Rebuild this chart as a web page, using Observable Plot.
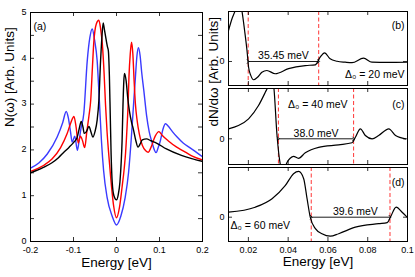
<!DOCTYPE html>
<html><head><meta charset="utf-8">
<script src="https://cdn.jsdelivr.net/npm/d3@7"></script>
<script src="https://cdn.jsdelivr.net/npm/@observablehq/plot@0.6"></script>
<style>
html,body{margin:0;padding:0;background:#fff;}
#chart{position:relative;width:415px;height:277px;overflow:hidden;background:#fff;}
</style></head><body><div id="chart"></div>
<script>
// ---------- Panel (a): N(ω) vs energy [eV] ----------
const blackCurve = [[-0.2,1.5],[-0.17,1.62],[-0.15,1.72],[-0.135,1.83],[-0.1225,1.95],[-0.11,2.06],[-0.1,2.16],[-0.092,2.26],[-0.087,2.45],[-0.082,2.62],[-0.078,2.5],[-0.075,2.36],[-0.07,2.4],[-0.064,2.51],[-0.059,2.38],[-0.055,2.28],[-0.05,2.4],[-0.045,2.65],[-0.041,3.08],[-0.037,3.95],[-0.034,4.45],[-0.031,4.77],[-0.028,4.62],[-0.024,4.4],[-0.021,4.25],[-0.019,4.17],[-0.0165,3.6],[-0.0145,2.75],[-0.0125,1.9],[-0.01,1.3],[-0.006,1.0],[0,0.91],[0.004,1.02],[0.008,1.3],[0.011,1.75],[0.013,2.2],[0.015,2.95],[0.017,3.5],[0.0186,3.67],[0.0225,3.5],[0.026,3.15],[0.03,2.85],[0.035,2.6],[0.039,2.46],[0.045,2.2],[0.05,2.06],[0.055,2.13],[0.06,2.22],[0.07,2.24],[0.08,2.2],[0.093,2.15],[0.116,2.02],[0.151,1.88],[0.175,1.81],[0.2,1.75]];
const redCurve = [[-0.2,1.53],[-0.17,1.66],[-0.15,1.8],[-0.13,2.05],[-0.115,2.35],[-0.106,2.6],[-0.099,2.73],[-0.094,2.5],[-0.089,2.15],[-0.084,2.3],[-0.079,2.2],[-0.074,2.05],[-0.069,2.4],[-0.064,2.75],[-0.06,3.08],[-0.056,3.8],[-0.053,4.32],[-0.047,4.75],[-0.041,4.83],[-0.037,4.65],[-0.033,4.32],[-0.029,3.7],[-0.0256,3.0],[-0.022,2.4],[-0.018,1.9],[-0.014,1.45],[-0.007,0.8],[0,0.52],[0.007,0.75],[0.013,1.19],[0.018,1.6],[0.021,1.92],[0.024,2.4],[0.027,3.0],[0.029,3.6],[0.032,4.1],[0.035,4.35],[0.038,4.1],[0.041,3.5],[0.044,3.0],[0.048,2.64],[0.053,2.35],[0.06,2.1],[0.068,1.98],[0.074,1.95],[0.08,2.05],[0.09,2.3],[0.0985,2.4],[0.106,2.32],[0.12,2.2],[0.14,2.06],[0.155,1.98],[0.175,1.87],[0.2,1.78]];
const blueCurve = [[-0.2,1.6],[-0.18,1.72],[-0.161,1.91],[-0.138,2.28],[-0.125,2.6],[-0.117,2.84],[-0.112,2.7],[-0.107,2.4],[-0.103,2.17],[-0.097,2.3],[-0.091,1.99],[-0.087,2.2],[-0.083,2.45],[-0.076,2.8],[-0.068,3.95],[-0.062,4.45],[-0.0565,4.64],[-0.051,4.4],[-0.045,3.95],[-0.04,3.1],[-0.035,2.2],[-0.03,1.55],[-0.022,0.97],[-0.01,0.55],[0,0.36],[0.01,0.55],[0.02,0.95],[0.028,1.5],[0.034,2.2],[0.039,2.9],[0.044,3.59],[0.0475,4.05],[0.051,4.23],[0.055,4.05],[0.0585,3.7],[0.0635,3.3],[0.07,2.75],[0.076,2.4],[0.083,2.15],[0.088,2.0],[0.092,1.94],[0.097,2.05],[0.102,2.2],[0.108,2.45],[0.114,2.57],[0.12,2.52],[0.13,2.4],[0.141,2.28],[0.155,2.15],[0.172,2.04],[0.2,1.85]];
const aXTicks = [-0.2, -0.1, 0, 0.1, 0.2];
const aYTicks = [0, 1, 2, 3, 4, 5];
const aYTickMarks = [0, 0.5, 1, 1.5, 2, 2.5, 3, 3.5, 4, 4.5, 5];

// ---------- Panels (b)-(d): dN/dω vs energy [eV] ----------
const curveB = [[0.01,1.29],[0.0118,1.79],[0.0134,2.13],[0.0151,2.6],[0.0167,2.13],[0.0181,1.29],[0.0193,0.46],[0.0201,-0.24],[0.0212,-0.58],[0.0226,-0.76],[0.0244,-0.67],[0.0268,-0.45],[0.0293,-0.375],[0.0335,-0.51],[0.0402,-0.3],[0.0486,-0.17],[0.0536,-0.14],[0.0561,0.18],[0.0583,0.36],[0.0611,0.11],[0.0646,0.01],[0.0687,-0.03],[0.0721,-0.05],[0.0779,0.14],[0.0821,-0.03],[0.09,-0.04],[0.1,-0.03]];
const curveC = [[0.01,0.4],[0.015,0.53],[0.0201,0.8],[0.0251,1.33],[0.0285,1.86],[0.0301,2.13],[0.0314,2.5],[0.0327,2.13],[0.0344,0.13],[0.036,-1.0],[0.0375,-1.3],[0.0394,-0.95],[0.041,-0.78],[0.0427,-0.7],[0.0452,-0.78],[0.0486,-0.56],[0.0553,-0.34],[0.0654,-0.24],[0.0721,-0.16],[0.0738,0.06],[0.0763,0.4],[0.0788,0.13],[0.0822,0.0],[0.0855,0.13],[0.0906,0.4],[0.094,0.13],[0.099,0.0]];
const curveD = [[0.01,0.2],[0.0234,0.4],[0.0319,0.74],[0.0386,1.27],[0.0427,1.74],[0.0453,1.83],[0.0478,1.54],[0.0495,0.74],[0.0511,0.0],[0.0537,-0.46],[0.057,-0.66],[0.0612,-0.76],[0.0654,-0.66],[0.0738,-0.4],[0.0855,-0.26],[0.0898,-0.22],[0.0914,0.0],[0.0943,0.4],[0.0973,0.2],[0.0998,0.0]];
const gapB = [0.0199, 0.05535];
const gapC = [0.0351, 0.0729];
const gapD = [0.0516, 0.0912];
const gapLabels = ["35.45 meV", "38.0 meV", "39.6 meV"];
const deltaLabels = ["Δ\u2080 = 20 meV", "Δ\u2080 = 40 meV", "Δ\u2080 = 60 meV"];
const panelLabels = ["(a)", "(b)", "(c)", "(d)"];
const rXTicks = [0.02, 0.04, 0.06, 0.08, 0.1];
const rYTicks = [0];

// ---------- drawing ----------
const chart = document.getElementById("chart");
const FONT = '"Liberation Sans", Arial, Helvetica, sans-serif';
const style = {background: "transparent", overflow: "visible", fontFamily: FONT, fontSize: "9px", color: "#000", position: "absolute"};
const TICK = 4;
const px = d => d[0], py = d => d[1], id = d => d;
const fmtA = d => (d < 0 ? "-" : "") + String(Math.abs(d));

function place(svg, left, top) {
  svg.style.left = left + "px";
  svg.style.top = top + "px";
  svg.style.maxWidth = "none";
  chart.appendChild(svg);
}

// Panel (a)
{
  const W = 210, H = 277, ML = 30, MR = 8, MT = 12, MB = 36;
  const IW = W - ML - MR, IH = H - MT - MB;
  const svg = Plot.plot({
    width: W, height: H, marginLeft: ML, marginRight: MR, marginTop: MT, marginBottom: MB,
    style,
    x: {domain: [-0.2, 0.2]},
    y: {domain: [0, 5]},
    marks: [
      Plot.line(blueCurve, {x: px, y: py, stroke: "#3a3aff", strokeWidth: 1.4, curve: "monotone-x", clip: true}),
      Plot.line(redCurve, {x: px, y: py, stroke: "#ff0000", strokeWidth: 1.4, curve: "monotone-x", clip: true}),
      Plot.line(blackCurve, {x: px, y: py, stroke: "#000", strokeWidth: 1.4, curve: "monotone-x", clip: true}),
      Plot.tickX(aXTicks, {x: id, insetTop: IH - TICK, strokeWidth: 0.8}),
      Plot.tickX(aXTicks, {x: id, insetBottom: IH - TICK, strokeWidth: 0.8}),
      Plot.tickY(aYTickMarks, {y: id, insetRight: IW - TICK, strokeWidth: 0.8}),
      Plot.tickY(aYTickMarks, {y: id, insetLeft: IW - TICK, strokeWidth: 0.8}),
      Plot.frame({stroke: "#000", strokeWidth: 1}),
      Plot.axisX(aXTicks, {tickSize: 0, tickPadding: 5, tickFormat: fmtA, label: null}),
      Plot.axisY(aYTicks, {tickSize: 0, tickPadding: 4, dy: -0.5, label: null}),
      Plot.text([panelLabels[0]], {text: id, frameAnchor: "top-left", dx: 3, dy: 10.5, textAnchor: "start", fontSize: 10.5}),
      Plot.text(["Energy [eV]"], {text: id, frameAnchor: "bottom", dy: 25, fontSize: 13.5}),
      Plot.text(["N(ω) [Arb. Units]"], {text: id, frameAnchor: "left", dx: -21, rotate: -90, fontSize: 13.5})
    ]
  });
  place(svg, 0, 0);
}

function rightPanel({curve, gap, gapLabel, gapLabelX, deltaMark, panelLabel, panelDy, yDomain, top, height, marginBottom, bottomAxis, extra = []}) {
  const W = 215, ML = 28, MR = 8, MT = 3;
  const IW = W - ML - MR, IH = height - MT - marginBottom;
  const marks = [
    Plot.ruleX(gap, {x: id, stroke: "#ff3535", strokeWidth: 1, strokeDasharray: "4,2.5"}),
    Plot.line(curve, {x: px, y: py, stroke: "#000", strokeWidth: 1.2, curve: "monotone-x", clip: true}),
    Plot.link([gap], {x1: d => d[0], x2: d => d[1], y1: () => 0, y2: () => 0, stroke: "#000", strokeWidth: 0.9, markerStart: "arrow", markerEnd: "arrow"}),
    Plot.text([gapLabel], {text: id, x: () => gapLabelX, y: () => 0, lineAnchor: "bottom", dy: -2, fontSize: 10.5}),
    Plot.tickX(rXTicks, {x: id, insetTop: IH - TICK, strokeWidth: 0.8}),
    Plot.tickX(rXTicks, {x: id, insetBottom: IH - TICK, strokeWidth: 0.8}),
    Plot.tickY(rYTicks, {y: id, insetRight: IW - TICK, strokeWidth: 0.8}),
    Plot.tickY(rYTicks, {y: id, insetLeft: IW - TICK, strokeWidth: 0.8}),
    Plot.frame({stroke: "#000", strokeWidth: 1}),
    Plot.axisY(rYTicks, {tickSize: 0, tickPadding: 4, label: null}),
    Plot.text([panelLabel], {text: id, frameAnchor: "top-right", dx: -3, dy: panelDy, textAnchor: "end", fontSize: 10.5}),
    deltaMark,
    ...extra
  ];
  if (bottomAxis) {
    marks.push(Plot.axisX(rXTicks, {tickSize: 0, tickPadding: 5, tickFormat: d => String(d), label: null}));
    marks.push(Plot.text(["Energy [eV]"], {text: id, frameAnchor: "bottom", dy: 24, fontSize: 13.5}));
  }
  const svg = Plot.plot({
    width: W, height, marginLeft: ML, marginRight: MR, marginTop: MT, marginBottom,
    style,
    x: {domain: [0.01, 0.1], axis: bottomAxis ? undefined : null},
    y: {domain: yDomain},
    marks
  });
  place(svg, 200, top);
}

rightPanel({
  curve: curveB, gap: gapB, gapLabel: gapLabels[0], gapLabelX: (gapB[0] + gapB[1]) / 2,
  deltaMark: Plot.text([deltaLabels[0]], {text: id, frameAnchor: "bottom-right", dx: -3, dy: -7.5, textAnchor: "end", fontSize: 10.5}),
  panelLabel: panelLabels[1], panelDy: 10.5,
  yDomain: [-1, 2.083], top: 8, height: 80, marginBottom: 3, bottomAxis: false
});
rightPanel({
  curve: curveC, gap: gapC, gapLabel: gapLabels[1], gapLabelX: (gapC[0] + gapC[1]) / 2,
  deltaMark: Plot.text([deltaLabels[1]], {text: id, frameAnchor: "top-left", dx: 59.5, dy: 12, textAnchor: "start", fontSize: 10.5}),
  panelLabel: panelLabels[2], panelDy: 12,
  yDomain: [-1.028, 2.012], top: 85, height: 82, marginBottom: 3, bottomAxis: false,
  extra: [Plot.text(["dN/dω [Arb. Units]"], {text: id, frameAnchor: "left", dx: -15, rotate: -90, fontSize: 13.5})]
});
rightPanel({
  curve: curveD, gap: gapD, gapLabel: gapLabels[2], gapLabelX: 0.0738,
  deltaMark: Plot.text([deltaLabels[2]], {text: id, frameAnchor: "bottom-left", dx: 2, dy: -12.5, textAnchor: "start", fontSize: 10.5}),
  panelLabel: panelLabels[3], panelDy: 11.3,
  yDomain: [-0.972, 1.988], top: 164, height: 113, marginBottom: 36, bottomAxis: true
});
</script></body></html>
